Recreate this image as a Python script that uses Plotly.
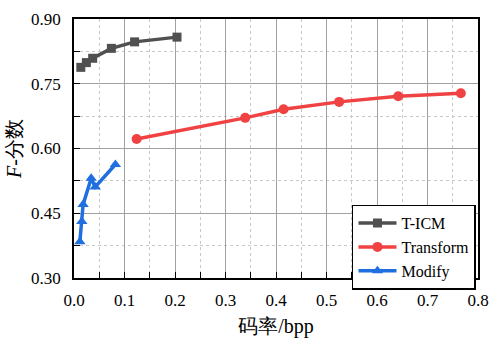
import plotly.graph_objects as go

ticm_x = [0.0135, 0.0245, 0.037, 0.074, 0.12, 0.204]
ticm_y = [0.788, 0.799, 0.809, 0.832, 0.847, 0.858]

trans_x = [0.124, 0.339, 0.415, 0.525, 0.642, 0.766]
trans_y = [0.622, 0.671, 0.691, 0.708, 0.721, 0.728]

mod_x = [0.0116, 0.0155, 0.018, 0.034, 0.042, 0.082]
mod_y = [0.384, 0.431, 0.470, 0.531, 0.511, 0.563]

x_ticks = [0.0, 0.1, 0.2, 0.3, 0.4, 0.5, 0.6, 0.7, 0.8]
y_ticks = [0.30, 0.45, 0.60, 0.75, 0.90]

font = "Times New Roman, Liberation Serif, DejaVu Serif, serif"

fig = go.Figure()
fig.add_trace(go.Scatter(x=ticm_x, y=ticm_y, name="T-ICM", mode="lines+markers",
                         line=dict(color="#505050", width=3.5),
                         marker=dict(symbol="square", size=9, color="#505050")))
fig.add_trace(go.Scatter(x=trans_x, y=trans_y, name="Transform", mode="lines+markers",
                         line=dict(color="#f04242", width=3.5),
                         marker=dict(symbol="circle", size=10, color="#f04242")))
fig.add_trace(go.Scatter(x=mod_x, y=mod_y, name="Modify", mode="lines+markers",
                         line=dict(color="#1f6fe0", width=3.5),
                         marker=dict(symbol="triangle-up", size=10, color="#1f6fe0")))

fig.update_layout(
    width=499, height=344,
    margin=dict(l=74, r=10, t=15, b=64),
    paper_bgcolor="white", plot_bgcolor="white",
    font=dict(family=font, size=17, color="black"),
    showlegend=True,
    legend=dict(x=0.995, y=0.283, xanchor="right", yanchor="top",
                bgcolor="white", bordercolor="black", borderwidth=1.5,
                font=dict(family=font, size=16), tracegroupgap=0,
                itemwidth=38),
    xaxis=dict(range=[0, 0.8], tickvals=x_ticks,
               ticktext=[f"{v:.1f}" for v in x_ticks],
               ticks="inside", ticklen=6, tickcolor="black",
               ticklabelstandoff=6,
               showline=True, linecolor="black", linewidth=1.5, mirror=True,
               showgrid=True, gridcolor="#a0a0a0", gridwidth=1,
               minor=dict(dtick=0.05, tick0=0, ticks="inside", ticklen=6, tickcolor="black",
                          showgrid=True, gridcolor="#c8c8c8", griddash="dot", gridwidth=1),
               zeroline=False,
               title=dict(text="码率/bpp", font=dict(family=font, size=20), standoff=10)),
    yaxis=dict(range=[0.3, 0.9], tickvals=y_ticks,
               ticktext=[f"{v:.2f}" for v in y_ticks],
               ticks="inside", ticklen=6, tickcolor="black",
               ticklabelstandoff=8,
               showline=True, linecolor="black", linewidth=1.5, mirror=True,
               showgrid=True, gridcolor="#a0a0a0", gridwidth=1,
               minor=dict(dtick=0.075, tick0=0.3, ticks="inside", ticklen=6, tickcolor="black",
                          showgrid=True, gridcolor="#c8c8c8", griddash="dot", gridwidth=1),
               zeroline=False,
               title=dict(text="<i>F</i>-分数", font=dict(family=font, size=20), standoff=4)),
)

fig.write_html("out.html", config={"displayModeBar": False},
               post_script="document.body.style.margin='0px';")
